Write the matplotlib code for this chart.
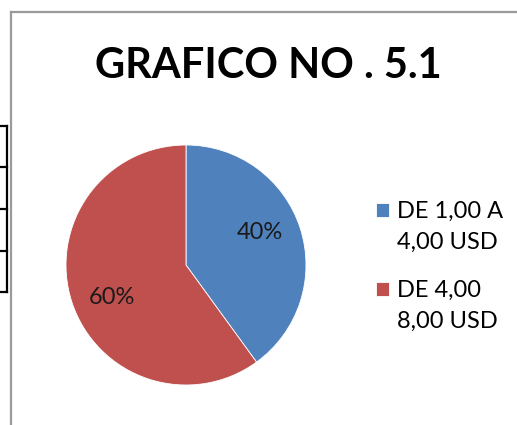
import matplotlib.pyplot as plt
from matplotlib.lines import Line2D
from matplotlib.patches import Rectangle

# data
labels = [["DE 1,00 A", "4,00 USD"], ["DE 4,00", "8,00 USD"]]
values = [40, 60]
colors = ["#4F81BD", "#C0504D"]
title = "GRAFICO NO . 5.1"

W, H = 517, 425
fig = plt.figure(figsize=(W / 100, H / 100), dpi=100)
plt.rcParams['font.family'] = ['Lato', 'DejaVu Sans']

def px(x, y):
    return x / W, 1 - y / H

# chart frame (grey) and the table edge on the left
fig.add_artist(Line2D([px(11, 0)[0], px(11, 0)[0]], [px(0, 12)[1], 0], color="#9a9a9a", lw=1.6))
fig.add_artist(Line2D([px(11, 0)[0], 1], [px(0, 12)[1], px(0, 12)[1]], color="#9a9a9a", lw=1.6))
fig.add_artist(Line2D([px(6.5, 0)[0]] * 2, [px(0, 126)[1], px(0, 292)[1]], color="black", lw=1.6))
for yy in [126, 167.5, 209, 251, 292]:
    fig.add_artist(Line2D([0, px(6.5, 0)[0]], [px(0, yy)[1]] * 2, color="black", lw=1.6))

# pie: center (186,265), radius 120 px
cx, cy, r = 186, 265, 120
ax = fig.add_axes([(cx - r) / W, (H - cy - r) / H, 2 * r / W, 2 * r / H])
wedges, texts, autotexts = ax.pie(values, colors=colors, startangle=90, counterclock=False,
                                  autopct="%d%%", pctdistance=0.67,
                                  textprops={"fontsize": 17, "color": "#1a1a1a"},
                                  wedgeprops={"linewidth": 0.6, "edgecolor": "white"})
ax.set_xlim(-1, 1)
ax.set_ylim(-1, 1)
# Excel puts the labels a bit off the wedge mid-angle
autotexts[0].set_position((0.615, 0.27))
autotexts[1].set_position((-0.615, -0.27))

fig.text(px(268.5, 0)[0], px(0, 66)[1], title, ha="center", va="center",
         fontsize=30, fontweight="bold", color="black")

blank = Rectangle((0, 0), 1, 1, fc="none", ec="none")
for i, top in enumerate([201, 280]):
    leg = fig.legend([wedges[i], blank], labels[i], loc="upper left",
                     bbox_to_anchor=px(376, top), frameon=False, fontsize=17,
                     handlelength=0.55, handleheight=0.55, handletextpad=0.34,
                     labelspacing=0.4, borderpad=0, borderaxespad=0)

fig.savefig("out.png", dpi=100)
